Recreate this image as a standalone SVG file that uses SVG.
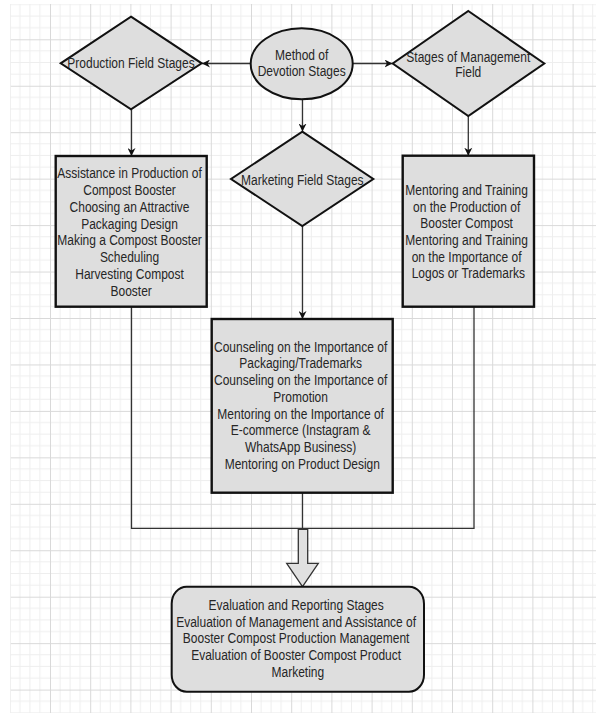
<svg xmlns="http://www.w3.org/2000/svg" width="596" height="713" viewBox="0 0 596 713">
<style>
.shape{fill:#dedede;stroke:#111;stroke-width:2}
.box{fill:#dedede;stroke:#111;stroke-width:2.4}
.conn{fill:none;stroke:#333;stroke-width:1.3}
.lbl{font-family:"Liberation Sans",Arial,sans-serif;font-size:12px;fill:#262626;text-anchor:middle}
</style>
<defs>
<pattern id="grid" x="9.8" y="-7.15" width="40.2" height="46.45" patternUnits="userSpaceOnUse">
<g stroke="#eeeeee" stroke-width="1">
<line x1="10.05" y1="0" x2="10.05" y2="46.45"/>
<line x1="20.1" y1="0" x2="20.1" y2="46.45"/>
<line x1="30.15" y1="0" x2="30.15" y2="46.45"/>
<line x1="0" y1="11.61" x2="40.2" y2="11.61"/>
<line x1="0" y1="23.22" x2="40.2" y2="23.22"/>
<line x1="0" y1="34.84" x2="40.2" y2="34.84"/>
</g>
<g stroke="#d9d9d9" stroke-width="1">
<line x1="0.5" y1="0" x2="0.5" y2="46.45"/>
<line x1="0" y1="0.5" x2="40.2" y2="0.5"/>
</g>
</pattern>
<marker id="arr" viewBox="0 0 10 10" refX="10" refY="5" markerWidth="8" markerHeight="8" markerUnits="userSpaceOnUse" orient="auto">
<path d="M0,0 L10,5 L0,10 L3,5 Z" fill="#111"/>
</marker>
</defs>
<rect x="0" y="0" width="596" height="713" fill="#ffffff"/>
<rect x="10.5" y="4" width="586" height="709" fill="url(#grid)"/>

<g id="connectors">
<line class="conn" x1="250.7" y1="63.5" x2="202" y2="63.5" marker-end="url(#arr)"/>
<line class="conn" x1="352.7" y1="63.5" x2="392.5" y2="63.5" marker-end="url(#arr)"/>
<line class="conn" x1="302.5" y1="99.3" x2="302.5" y2="131.5" marker-end="url(#arr)"/>
<line class="conn" x1="131.5" y1="109.3" x2="131.5" y2="156" marker-end="url(#arr)"/>
<line class="conn" x1="468.3" y1="116" x2="468.3" y2="155.7" marker-end="url(#arr)"/>
<line class="conn" x1="302.5" y1="226" x2="302.5" y2="319" marker-end="url(#arr)"/>
<polyline class="conn" points="131.5,306.7 131.5,528.3 474,528.3 474,306.7"/>
<line class="conn" x1="302.5" y1="492.7" x2="302.5" y2="528.3"/>
<polygon points="298.3,529.3 307.7,529.3 307.7,563.3 318.3,563.3 302.5,586.5 286.7,563.3 298.3,563.3" fill="#e0e0e0" stroke="#333" stroke-width="1.3"/>
</g>

<g id="method">
<ellipse class="shape" cx="301.7" cy="63.8" rx="51" ry="35.5"/>
<text class="lbl" transform="translate(301.7,60.2) scale(1,1.16)"><tspan x="0" dy="0">Method of</tspan><tspan x="0" dy="14">Devotion Stages</tspan></text>
</g>

<g id="production">
<polygon class="shape" points="131,16.7 201.7,63.3 131,109.3 60.7,63.3"/>
<text class="lbl" transform="translate(131,68.3) scale(1,1.16)">Production Field Stages</text>
</g>

<g id="management">
<polygon class="shape" points="468.3,11 544.3,63.5 468.3,116 392.7,63.5"/>
<text class="lbl" transform="translate(468.3,61.7) scale(1,1.16)"><tspan x="0" dy="0">Stages of Management</tspan><tspan x="0" dy="13">Field</tspan></text>
</g>

<g id="marketing">
<polygon class="shape" points="302.3,131.7 373.3,179 302.3,226 231,179"/>
<text class="lbl" transform="translate(302.3,185) scale(1,1.16)">Marketing Field Stages</text>
</g>

<g id="production-box">
<rect class="box" x="55.7" y="156" width="151" height="150.7"/>
<text class="lbl" transform="translate(131.2,178.3) scale(1,1.16)">
<tspan x="0" dy="0">Assistance in Production of</tspan>
<tspan x="0" dy="14.45">Compost Booster</tspan>
<tspan x="0" dy="14.45">Choosing an Attractive</tspan>
<tspan x="0" dy="14.45">Packaging Design</tspan>
<tspan x="0" dy="14.45">Making a Compost Booster</tspan>
<tspan x="0" dy="14.45">Scheduling</tspan>
<tspan x="0" dy="14.45">Harvesting Compost</tspan>
<tspan x="0" dy="14.45">Booster</tspan>
</text>
</g>

<g id="management-box">
<rect class="box" x="402.7" y="155.7" width="131.3" height="151"/>
<text class="lbl" transform="translate(468.3,195) scale(1,1.16)">
<tspan x="0" dy="0">Mentoring and Training</tspan>
<tspan x="0" dy="14.37">on the Production of</tspan>
<tspan x="0" dy="14.37">Booster Compost</tspan>
<tspan x="0" dy="14.37">Mentoring and Training</tspan>
<tspan x="0" dy="14.37">on the Importance of</tspan>
<tspan x="0" dy="14.37">Logos or Trademarks</tspan>
</text>
</g>

<g id="marketing-box">
<rect class="box" x="211.7" y="319" width="181" height="173.7"/>
<text class="lbl" transform="translate(302.3,351.7) scale(1,1.16)">
<tspan x="0" dy="0">Counseling on the Importance of</tspan>
<tspan x="0" dy="14.45">Packaging/Trademarks</tspan>
<tspan x="0" dy="14.45">Counseling on the Importance of</tspan>
<tspan x="0" dy="14.45">Promotion</tspan>
<tspan x="0" dy="14.45">Mentoring on the Importance of</tspan>
<tspan x="0" dy="14.45">E-commerce (Instagram &amp;</tspan>
<tspan x="0" dy="14.45">WhatsApp Business)</tspan>
<tspan x="0" dy="14.45">Mentoring on Product Design</tspan>
</text>
</g>

<g id="evaluation">
<rect class="shape" x="171.7" y="586.7" width="252.3" height="105" rx="15" ry="17" stroke-width="1.6"/>
<text class="lbl" transform="translate(297.8,610) scale(1,1.16)">
<tspan x="0" dy="0">Evaluation and Reporting Stages</tspan>
<tspan x="0" dy="14.37">Evaluation of Management and Assistance of</tspan>
<tspan x="0" dy="14.37">Booster Compost Production Management</tspan>
<tspan x="0" dy="14.37">Evaluation of Booster Compost Product</tspan>
<tspan x="0" dy="14.37">Marketing</tspan>
</text>
</g>
</svg>
